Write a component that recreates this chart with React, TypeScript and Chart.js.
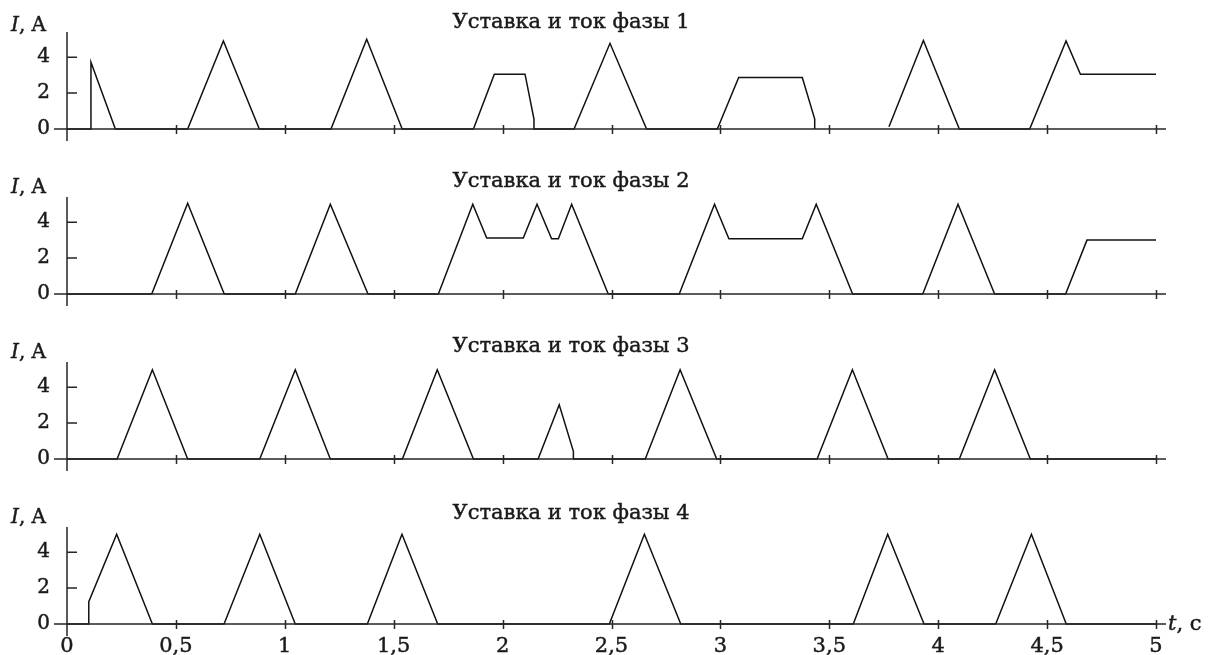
import React, { useEffect, useRef } from "react";
import { Chart, registerables } from "chart.js";

Chart.register(...registerables);

// Time axis, seconds
const xTicks = [0, 0.5, 1, 1.5, 2, 2.5, 3, 3.5, 4, 4.5, 5];
const xTickLabels = ["0", "0,5", "1", "1,5", "2", "2,5", "3", "3,5", "4", "4,5", "5"];
// Current axis, amperes
const yTicks = [0, 2, 4];

const panelTitles = [
  "Уставка и ток фазы 1",
  "Уставка и ток фазы 2",
  "Уставка и ток фазы 3",
  "Уставка и ток фазы 4",
];

// Phase 1: time (s) and current (A); null breaks the trace
const phase1Time = [0, 0.11, 0.11, 0.222, 0.554, 0.718, 0.883, 1.212, 1.376, 1.539, 1.866, 1.962, 2.103, 2.144, 2.144, 2.328, 2.493, 2.661, 2.986, 3.084, 3.376, 3.433, 3.433, 3.774, 3.774, 3.932, 4.097, 4.42, 4.587, 4.653, 5.0];
const phase1Current = [0, 0, 3.72, 0, 0, 4.9, 0, 0, 5.0, 0, 0, 3.05, 3.05, 0.55, 0, 0, 4.77, 0, 0, 2.87, 2.87, 0.55, 0, null, 0.13, 4.93, 0, 0, 4.9, 3.05, 3.05];

const phase2Time = [0, 0.389, 0.554, 0.722, 1.048, 1.209, 1.382, 1.705, 1.863, 1.927, 2.095, 2.158, 2.225, 2.256, 2.317, 2.485, 2.811, 2.973, 3.039, 3.376, 3.44, 3.607, 3.929, 4.091, 4.259, 4.585, 4.683, 5.0];
const phase2Current = [0, 0, 5.05, 0, 0, 5.0, 0, 0, 5.0, 3.12, 3.12, 5.0, 3.07, 3.07, 5.0, 0, 0, 5.0, 3.07, 3.07, 5.0, 0, 0, 5.0, 0, 0, 3.0, 3.0];

const phase3Time = [0, 0.23, 0.392, 0.554, 0.885, 1.048, 1.209, 1.54, 1.7, 1.866, 2.163, 2.26, 2.325, 2.325, 2.655, 2.815, 2.983, 3.444, 3.606, 3.77, 4.097, 4.259, 4.423, 5.0];
const phase3Current = [0, 0, 4.97, 0, 0, 4.97, 0, 0, 4.97, 0, 0, 3.02, 0.43, 0, 0, 4.97, 0, 0, 4.97, 0, 0, 4.97, 0, 0];

const phase4Time = [0, 0.1, 0.1, 0.228, 0.392, 0.721, 0.885, 1.048, 1.379, 1.538, 1.702, 2.49, 2.651, 2.818, 3.61, 3.768, 3.935, 4.264, 4.428, 4.588, 5.0];
const phase4Current = [0, 0, 1.24, 5.0, 0, 0, 5.0, 0, 0, 5.0, 0, 0, 5.0, 0, 0, 5.0, 0, 0, 5.0, 0, 0];

const phaseTimes = [phase1Time, phase2Time, phase3Time, phase4Time];
const phaseCurrents = [phase1Current, phase2Current, phase3Current, phase4Current];

// Page layout (pixels)
const PAGE_W = 1211;
const PAGE_H = 655;
const PANEL_STEP = 165;
const PLOT_LEFT = 67;
const PLOT_RIGHT = 1156;
const PLOT_TOP = 32;
const PLOT_BOTTOM = 129;
const Y_MAX = 5.4;
const TITLE_X = 452.5;
const TITLE_BASELINES = [28, 22, 22, 23.5];
const UNIT_BASELINES = [30.5, 28.3, 28.3, 28.3];

const SERIF = '"DejaVu Serif", serif';
const INK = "#1a1a1a";

// Slightly heavier text, drawn with a thin outline in the same ink
function heavyText(ctx: CanvasRenderingContext2D, text: string, x: number, y: number) {
  ctx.fillText(text, x, y);
  ctx.strokeText(text, x, y);
}

function makeAxesPlugin(index: number, isLast: boolean) {
  return {
    id: "panelAxes" + index,
    afterDraw(chart: any) {
      const ctx = chart.ctx as CanvasRenderingContext2D;
      const xs = chart.scales.x;
      const ys = chart.scales.y;
      const x0 = xs.getPixelForValue(0);
      const x5 = xs.getPixelForValue(5);
      const y0 = ys.getPixelForValue(0);
      const yTop = ys.getPixelForValue(Y_MAX);

      ctx.save();
      ctx.strokeStyle = "#262626";
      ctx.lineWidth = 1.5;
      ctx.beginPath();
      ctx.moveTo(x0 - 13, y0);
      ctx.lineTo(x5 + 10, y0);
      ctx.moveTo(x0, yTop);
      ctx.lineTo(x0, y0 + 12);
      for (const v of xTicks) {
        if (v === 0) continue;
        const px = Math.round(xs.getPixelForValue(v)) + 0.5;
        ctx.moveTo(px, y0 - 4);
        ctx.lineTo(px, y0 + 5);
      }
      for (const v of yTicks) {
        if (v === 0) continue;
        const py = ys.getPixelForValue(v);
        ctx.moveTo(x0, py);
        ctx.lineTo(x0 + 10, py);
      }
      ctx.stroke();

      ctx.fillStyle = INK;
      ctx.strokeStyle = INK;
      ctx.lineWidth = 0.45;
      ctx.textBaseline = "alphabetic";
      ctx.textAlign = "left";
      ctx.font = "21px " + SERIF;
      heavyText(ctx, panelTitles[index], TITLE_X, TITLE_BASELINES[index]);

      // "I, A" unit label
      ctx.font = "italic 20px " + SERIF;
      heavyText(ctx, "I", 11, UNIT_BASELINES[index]);
      const wI = ctx.measureText("I").width;
      ctx.font = "20px " + SERIF;
      heavyText(ctx, ", A", 11 + wI, UNIT_BASELINES[index]);

      if (isLast) {
        ctx.font = "italic 21px " + SERIF;
        heavyText(ctx, "t", 1168, y0 + 6);
        const wt = ctx.measureText("t").width;
        ctx.font = "21px " + SERIF;
        heavyText(ctx, ", c", 1168 + wt, y0 + 6);
      }
      ctx.restore();
    },
  };
}

function Panel({ index }: { index: number }) {
  const ref = useRef<HTMLCanvasElement | null>(null);
  const isLast = index === 3;
  const height = isLast ? PAGE_H - PANEL_STEP * 3 : PANEL_STEP;

  useEffect(() => {
    if (!ref.current) return;
    const points = phaseTimes[index].map((t, i) => ({ x: t, y: phaseCurrents[index][i] }));
    const chart = new Chart(ref.current, {
      type: "scatter",
      data: {
        datasets: [
          {
            data: points as any,
            showLine: true,
            spanGaps: false,
            borderColor: "#111",
            borderWidth: 1.5,
            pointRadius: 0,
            tension: 0,
            clip: false as any,
          },
        ],
      },
      options: {
        responsive: false,
        maintainAspectRatio: false,
        animation: false,
        events: [],
        layout: { padding: { left: 0, right: PAGE_W - PLOT_RIGHT, top: PLOT_TOP, bottom: 0 } },
        plugins: {
          legend: { display: false },
          tooltip: { enabled: false },
          title: { display: false },
        },
        scales: {
          x: {
            type: "linear",
            min: 0,
            max: 5,
            grid: { display: false, drawTicks: false },
            border: { display: false },
            afterBuildTicks: (s: any) => {
              s.ticks = xTicks.map((v) => ({ value: v }));
            },
            afterFit: (s: any) => {
              s.height = height - PLOT_BOTTOM;
            },
            ticks: {
              display: isLast,
              autoSkip: false,
              maxRotation: 0,
              padding: 10,
              color: INK,
              textStrokeColor: INK,
              textStrokeWidth: 0.45,
              font: { family: SERIF, size: 21 },
              callback: (_v: any, i: number) => xTickLabels[i],
            },
          },
          y: {
            type: "linear",
            min: 0,
            max: Y_MAX,
            grid: { display: false, drawTicks: false },
            border: { display: false },
            afterBuildTicks: (s: any) => {
              s.ticks = yTicks.map((v) => ({ value: v }));
            },
            afterFit: (s: any) => {
              s.width = PLOT_LEFT;
            },
            ticks: {
              padding: 17,
              color: INK,
              textStrokeColor: INK,
              textStrokeWidth: 0.45,
              font: { family: SERIF, size: 20 },
              callback: (v: any) => String(v),
            },
          },
        },
      },
      plugins: [makeAxesPlugin(index, isLast)],
    });
    return () => chart.destroy();
  }, [index]);

  return (
    <canvas
      ref={ref}
      width={PAGE_W}
      height={height}
      style={{ position: "absolute", left: 0, top: PANEL_STEP * index, width: PAGE_W, height }}
    />
  );
}

export default function App() {
  return (
    <div style={{ position: "absolute", left: 0, top: 0, width: PAGE_W, height: PAGE_H, background: "#fff" }}>
      {[0, 1, 2, 3].map((i) => (
        <Panel key={i} index={i} />
      ))}
    </div>
  );
}
